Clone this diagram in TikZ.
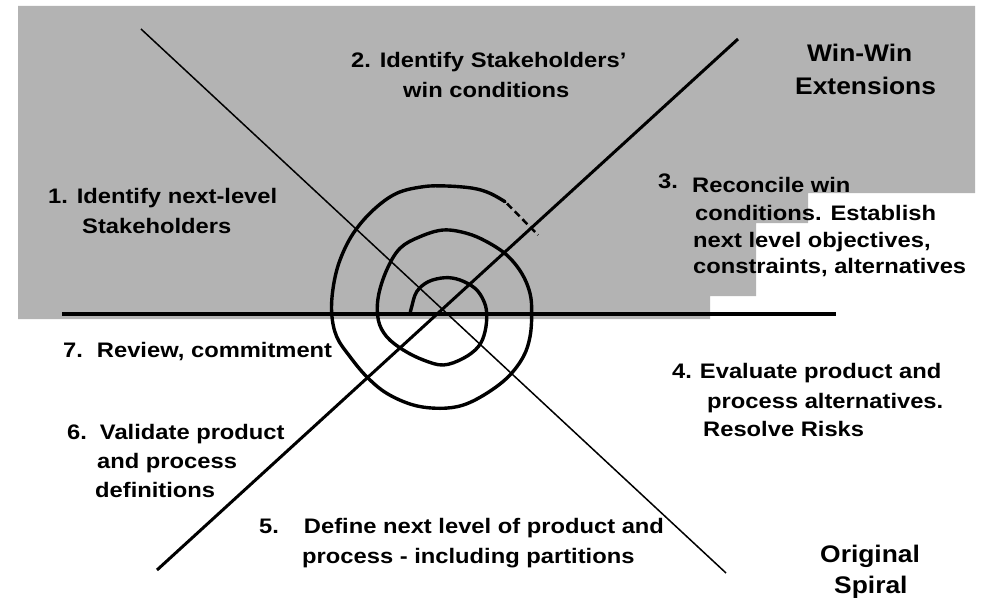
\documentclass[tikz,border=0pt]{standalone}
\usepackage{fontspec}
\setmainfont{Liberation Sans}
\newfontfamily\labfont[FakeStretch=1.13]{Liberation Sans}
\newfontfamily\bigfont[FakeStretch=1.1]{Liberation Sans}
\definecolor{bggray}{RGB}{179,179,179}
\tikzset{
  lab/.style={anchor=base west, inner sep=0pt, font=\labfont\bfseries\fontsize{21}{25}\selectfont},
  biglab/.style={anchor=base west, inner sep=0pt, font=\bigfont\bfseries\fontsize{24}{28}\selectfont},
  thinline/.style={line width=1.5pt},
  thickline/.style={line width=3pt},
  axisline/.style={line width=4pt},
  spiralline/.style={line width=3.4pt, line join=round, line cap=round},
}
\begin{document}
\begin{tikzpicture}[x=1pt,y=-1pt]
\useasboundingbox (0,0) rectangle (982,599);
% gray background region
\fill[bggray] (18,6) -- (975,6) -- (975,193) -- (808,193) -- (808,223) -- (756,223)
  -- (756,296) -- (710,296) -- (710,319) -- (18,319) -- cycle;
% axes
\coordinate (a1) at (141,29);
\coordinate (a2) at (726,573);
\coordinate (b1) at (738,39);
\coordinate (b2) at (157,570);
\coordinate (h1) at (62,314);
\coordinate (h2) at (836,314);
\draw[thinline] (a1) -- (a2);
\draw[thickline] (b1) -- (b2);
\draw[axisline] (h1) -- (h2);
% spiral
\draw[spiralline] plot[smooth, tension=0.6] coordinates {
(410,314) (411.7,306.7) (416.7,291.7) (428.3,281.7) (445,277.7) (460,280) (475,288.3)
(483.3,300) (486.7,313.3) (485,331.7) (478.3,346.7) (463.3,358.3) (443.3,365)
(423.3,360) (403.3,350) (386.7,336.7) (378.3,320) (378.3,296.7) (386.7,270)
(400,248.3) (420,236.7) (443.3,230) (466.7,233.3) (486.7,241.7) (506.7,255)
(521.7,273.3) (530,293.3) (531.7,313.3) (530,336.7) (523.3,356.7) (508.3,376.7)
(486.7,393.3) (463.3,405) (440,408.3) (413.3,405) (386.7,393.3) (366.7,376.7)
(350,356.7) (336.7,336.7) (331.7,313.3) (333.3,286.7) (340,260) (353.3,233.3)
(373.3,210) (396.7,193.3) (423.3,186.7) (446.7,186) (473.3,188.3) (490,193.3)
(505,201.7)};
\coordinate (s1) at (507,203.5);
\coordinate (s2) at (538,235);
\draw[line width=2.5pt, dash pattern=on 7pt off 4pt] (s1) -- (s2);
% labels
\node[lab] (t1a) at (48,203) {1. Identify next-level};
\node[lab] (t1b) at (82,233) {Stakeholders};
\node[lab] (t2a) at (351,68) {2. Identify Stakeholders’};
\node[lab] (t2b) at (403,98) {win conditions};
\node[biglab] (w1) at (807,62) {Win-Win};
\node[biglab] (w2) at (795,95) {Extensions};
\node[lab] (t3n) at (658,188) {3.};
\node[lab] (t3a) at (692,192) {Reconcile win};
\node[lab] (t3b) at (695,220) {conditions. Establish};
\node[lab] (t3c) at (693,247) {next level objectives,};
\node[lab] (t3d) at (693,273) {constraints, alternatives};
\node[lab] (t4a) at (672,378) {4.\hspace*{8pt}Evaluate product and};
\node[lab] (t4b) at (707,408) {process alternatives.};
\node[lab] (t4c) at (703,436) {Resolve Risks};
\node[lab] (t5a) at (259,533) {5.\hspace*{25pt}Define next level of product and};
\node[lab] (t5b) at (302,563) {process - including partitions};
\node[biglab] (o1) at (820,562) {Original};
\node[biglab] (o2) at (834,593) {Spiral};
\node[lab] (t7) at (63,357) {7.\hspace*{14pt}Review, commitment};
\node[lab] (t6a) at (67,439) {6.\hspace*{13pt}Validate product};
\node[lab] (t6b) at (97,468) {and process};
\node[lab] (t6c) at (95,497) {definitions};
\end{tikzpicture}
\end{document}
